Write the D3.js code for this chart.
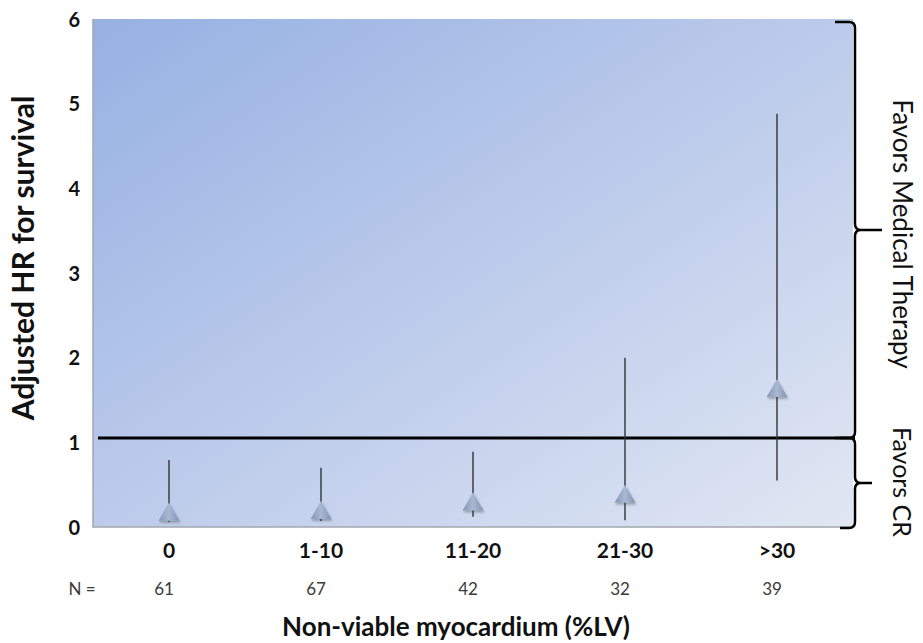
<!DOCTYPE html>
<html>
<head>
<meta charset="utf-8">
<script src="https://cdn.jsdelivr.net/npm/d3@7"></script>
<style>
  body { margin: 0; background: #fff; }
  svg { display: block; font-family: Lato, "Open Sans", sans-serif; }
  .axis text { font-weight: 700; fill: #111; }
</style>
</head>
<body>
<div id="chart"></div>
<script>
const categories = ["0", "1-10", "11-20", "21-30", ">30"];
const counts = [61, 67, 42, 32, 39];
const hr = [0.17, 0.19, 0.29, 0.38, 1.63];
const lower = [0.06, 0.07, 0.12, 0.08, 0.55];
const upper = [0.79, 0.7, 0.89, 2.0, 4.88];
const yTicks = [0, 1, 2, 3, 4, 5, 6];
const refValue = 1.05;

const width = 923;
const height = 643;
const margin = { top: 19, right: 70, bottom: 116, left: 93 };
const fontFamily = "Lato, 'Open Sans', sans-serif";

const svg = d3
  .select("#chart")
  .append("svg")
  .attr("width", width)
  .attr("height", height);

const x = d3
  .scaleBand()
  .domain(categories)
  .range([margin.left, width - margin.right]);

const y = d3
  .scaleLinear()
  .domain([0, 6])
  .range([height - margin.bottom, margin.top]);

const cx = (d) => x(d) + x.bandwidth() / 2;

const defs = svg.append("defs");
defs
  .append("linearGradient")
  .attr("id", "bg")
  .attr("x1", 0)
  .attr("y1", 0)
  .attr("x2", 1)
  .attr("y2", 1)
  .call((g) => g.append("stop").attr("offset", 0).attr("stop-color", "#96b1e2"))
  .call((g) => g.append("stop").attr("offset", 0.5).attr("stop-color", "#bccbeb"))
  .call((g) => g.append("stop").attr("offset", 1).attr("stop-color", "#e1e7f3"));
defs
  .append("linearGradient")
  .attr("id", "tri")
  .attr("x1", 0)
  .attr("y1", 0)
  .attr("x2", 1)
  .attr("y2", 0)
  .call((g) => g.append("stop").attr("offset", 0).attr("stop-color", "#8597b8"))
  .call((g) => g.append("stop").attr("offset", 0.5).attr("stop-color", "#a9b8d2"))
  .call((g) => g.append("stop").attr("offset", 1).attr("stop-color", "#8193b4"));
defs
  .append("filter")
  .attr("id", "shadow")
  .attr("x", "-50%")
  .attr("y", "-50%")
  .attr("width", "200%")
  .attr("height", "200%")
  .append("feDropShadow")
  .attr("dx", 1)
  .attr("dy", 2)
  .attr("stdDeviation", 1.2)
  .attr("flood-color", "#333")
  .attr("flood-opacity", 0.35);

// plot background
const [x0, x1] = x.range();
svg
  .append("rect")
  .attr("x", x0)
  .attr("y", y(6))
  .attr("width", x1 - x0)
  .attr("height", y(0) - y(6))
  .attr("fill", "url(#bg)");

// left and bottom border
svg
  .append("path")
  .attr("d", `M${x0},${y(6)}V${y(0)}H${x1}`)
  .attr("fill", "none")
  .attr("stroke", "#a3a8ae")
  .attr("stroke-width", 1.5);

// y axis
svg
  .append("g")
  .attr("class", "axis")
  .attr("transform", `translate(${x0 - 13},0)`)
  .call(
    d3
      .axisLeft(y)
      .tickValues(yTicks)
      .tickFormat(d3.format("d"))
      .tickSize(0)
      .tickPadding(0)
  )
  .attr("font-family", fontFamily)
  .call((g) => g.select(".domain").remove())
  .call((g) => g.selectAll("text").attr("font-size", 20).attr("dy", "0.36em"));

// x axis
svg
  .append("g")
  .attr("class", "axis")
  .attr("transform", `translate(0,${y(0)})`)
  .call(d3.axisBottom(x).tickSize(0).tickPadding(16))
  .attr("font-family", fontFamily)
  .call((g) => g.select(".domain").remove())
  .call((g) => g.selectAll("text").attr("font-size", 21));

// N row
svg
  .append("text")
  .attr("x", 82)
  .attr("y", 595)
  .attr("text-anchor", "middle")
  .attr("font-size", 17)
  .attr("fill", "#3a3a3a")
  .text("N =");
svg
  .append("g")
  .selectAll("text")
  .data(categories)
  .join("text")
  .attr("x", (d) => cx(d) - 5)
  .attr("y", 595)
  .attr("text-anchor", "middle")
  .attr("font-size", 17)
  .attr("fill", "#3a3a3a")
  .text((d, i) => counts[i]);

// axis titles
svg
  .append("text")
  .attr("x", 456)
  .attr("y", 636)
  .attr("text-anchor", "middle")
  .attr("font-size", 26)
  .attr("font-weight", 700)
  .attr("fill", "#111")
  .text("Non-viable myocardium (%LV)");
svg
  .append("text")
  .attr("transform", `translate(34,258) rotate(-90)`)
  .attr("text-anchor", "middle")
  .attr("font-size", 30)
  .attr("font-weight", 700)
  .attr("fill", "#111")
  .text("Adjusted HR for survival");

// reference line
svg
  .append("line")
  .attr("x1", x0 + 5)
  .attr("x2", x1 + 2)
  .attr("y1", y(refValue))
  .attr("y2", y(refValue))
  .attr("stroke", "#000")
  .attr("stroke-width", 3);

// error bars
svg
  .append("g")
  .selectAll("line")
  .data(categories)
  .join("line")
  .attr("x1", cx)
  .attr("x2", cx)
  .attr("y1", (d, i) => y(upper[i]))
  .attr("y2", (d, i) => y(lower[i]))
  .attr("stroke", "#333")
  .attr("stroke-width", 1.4);

// triangle markers
const tri = d3.symbol().type(d3.symbolTriangle).size(190);
svg
  .append("g")
  .selectAll("path")
  .data(categories)
  .join("path")
  .attr("d", tri)
  .attr("transform", (d, i) => `translate(${cx(d)},${y(hr[i]) + 2})`)
  .attr("fill", "url(#tri)")
  .attr("filter", "url(#shadow)");

// braces
function brace(xp, yTop, yBot, depth) {
  const ym = (yTop + yBot) / 2;
  const r = 6;
  return [
    `M${xp - 20},${yTop}`,
    `H${xp - r}`,
    `Q${xp},${yTop} ${xp},${yTop + r}`,
    `V${ym - r}`,
    `Q${xp},${ym} ${xp + r},${ym}`,
    `H${xp + depth}`,
    `M${xp + r},${ym}`,
    `Q${xp},${ym} ${xp},${ym + r}`,
    `V${yBot - r}`,
    `Q${xp},${yBot} ${xp - r},${yBot}`,
    `H${xp - 15}`,
  ].join("");
}
const bx = x1 + 2;
svg
  .append("path")
  .attr("d", brace(bx, y(6) + 3, y(refValue), 27))
  .attr("fill", "none")
  .attr("stroke", "#000")
  .attr("stroke-width", 2.5);
svg
  .append("path")
  .attr("d", brace(bx, y(refValue), y(0) + 1, 17))
  .attr("fill", "none")
  .attr("stroke", "#000")
  .attr("stroke-width", 2.5);

svg
  .append("text")
  .attr("transform", `translate(893,234) rotate(90)`)
  .attr("text-anchor", "middle")
  .attr("font-size", 26)
  .attr("fill", "#111")
  .text("Favors Medical Therapy");
svg
  .append("text")
  .attr("transform", `translate(893,482) rotate(90)`)
  .attr("text-anchor", "middle")
  .attr("font-size", 25)
  .attr("fill", "#111")
  .text("Favors CR");
</script>
</body>
</html>
